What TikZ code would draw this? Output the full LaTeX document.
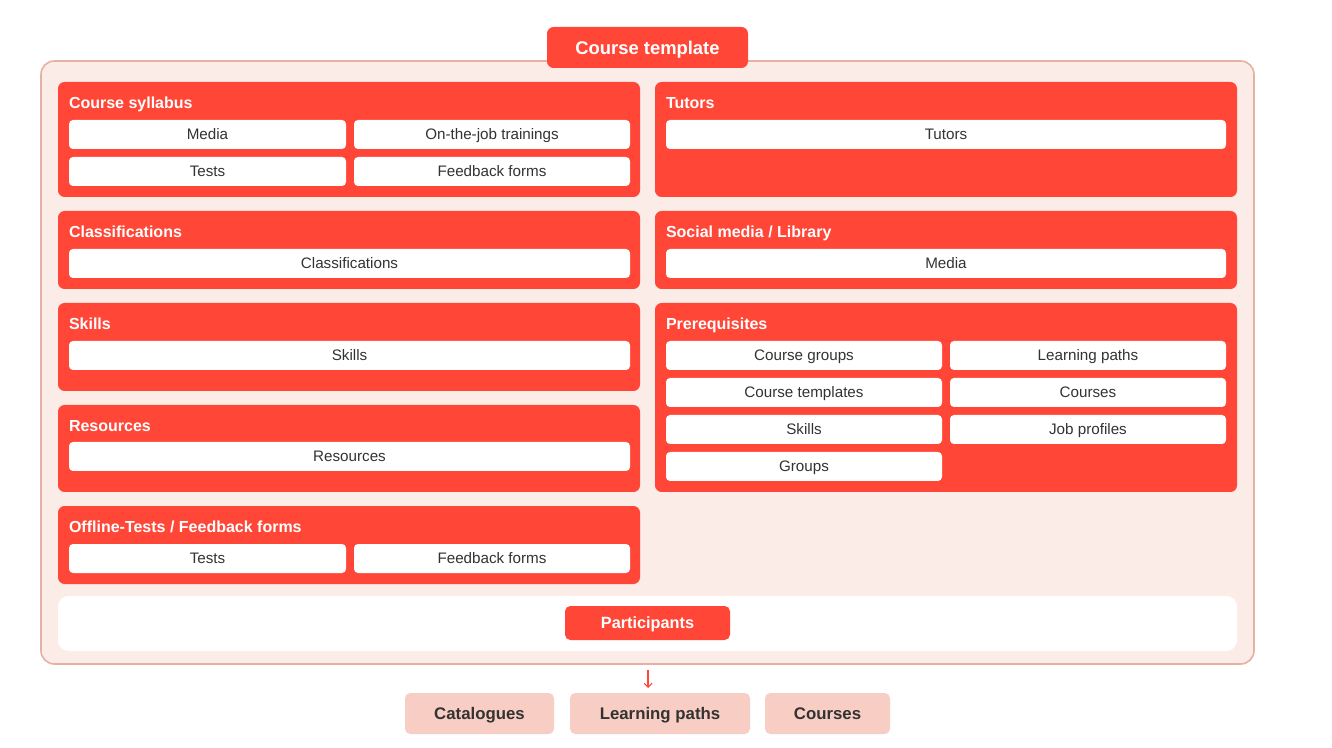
\documentclass[tikz,border=0pt]{standalone}
\usepackage{fontspec}
\setmainfont{Liberation Sans}
\usetikzlibrary{arrows.meta}
\definecolor{cred}{RGB}{255,70,55}
\definecolor{cbg}{RGB}{252,236,232}
\definecolor{cborder}{RGB}{230,176,162}
\definecolor{cpink}{RGB}{247,205,196}
\definecolor{ctext}{RGB}{51,51,51}
\tikzset{
  every node/.style={inner sep=0pt, outer sep=0pt},
  outerbox/.style={fill=cbg, draw=cborder, line width=1.2pt, rounded corners=10pt},
  panel/.style={fill=cred, rounded corners=5pt},
  subbox/.style={fill=white, rounded corners=3pt, text=ctext, text height=8.2pt, text depth=0pt, font=\fontsize{11.4}{13}\selectfont},
  ptitle/.style={anchor=west, text=white, text height=8.6pt, text depth=0pt, font=\bfseries\fontsize{12}{14}\selectfont},
  tab/.style={fill=cred, rounded corners=5pt, text=white, text height=9.9pt, text depth=0pt, font=\bfseries\fontsize{13.8}{16}\selectfont},
  partarea/.style={fill=white, rounded corners=8pt},
  partbtn/.style={fill=cred, rounded corners=4pt, text=white, text height=8.7pt, text depth=0pt, font=\bfseries\fontsize{12.2}{14}\selectfont},
  target/.style={fill=cpink, rounded corners=4pt, text=ctext, text height=9pt, text depth=0pt, font=\bfseries\fontsize{12.6}{15}\selectfont},
  link/.style={draw=cred, line width=0.8pt, -{Straight Barb[length=3pt,width=6pt]}}
}
\newcommand\bx[7]{\node[#6, minimum width={(#4-#2)*0.75pt}, minimum height={(#5-#3)*0.75pt}] (#1) at ({(#2+#4)/2},{(#3+#5)/2}) {#7};}
\begin{document}
\begin{tikzpicture}[x=0.75pt,y=-0.75pt]
\useasboundingbox (0,0) rectangle (1332,748);
% outer container
\bx{outer}{41}{61}{1254}{664}{outerbox}{}
\bx{tmpl}{547}{27}{748}{68}{tab}{Course template}
% Course syllabus
\bx{syl}{58}{82}{640}{197}{panel}{}
\node[ptitle] (sylt) at (69,103) {Course syllabus};
\bx{sylA}{69}{120}{346}{149}{subbox}{Media}
\bx{sylB}{354}{120}{630}{149}{subbox}{On-the-job trainings}
\bx{sylC}{69}{157}{346}{186}{subbox}{Tests}
\bx{sylD}{354}{157}{630}{186}{subbox}{Feedback forms}
% Tutors
\bx{tut}{655}{82}{1237}{197}{panel}{}
\node[ptitle] (tutt) at (666,103) {Tutors};
\bx{tutA}{666}{120}{1226}{149}{subbox}{Tutors}
% Classifications
\bx{cls}{58}{211}{640}{289}{panel}{}
\node[ptitle] (clst) at (69,232) {Classifications};
\bx{clsA}{69}{249}{630}{278}{subbox}{Classifications}
% Social media
\bx{soc}{655}{211}{1237}{289}{panel}{}
\node[ptitle] (soct) at (666,232) {Social media / Library};
\bx{socA}{666}{249}{1226}{278}{subbox}{Media}
% Skills
\bx{skl}{58}{303}{640}{391}{panel}{}
\node[ptitle] (sklt) at (69,324) {Skills};
\bx{sklA}{69}{341}{630}{370}{subbox}{Skills}
% Resources
\bx{res}{58}{405}{640}{492}{panel}{}
\node[ptitle] (rest) at (69,426) {Resources};
\bx{resA}{69}{442}{630}{471}{subbox}{Resources}
% Offline
\bx{off}{58}{506}{640}{584}{panel}{}
\node[ptitle] (offt) at (69,527) {Offline-Tests / Feedback forms};
\bx{offA}{69}{544}{346}{573}{subbox}{Tests}
\bx{offB}{354}{544}{630}{573}{subbox}{Feedback forms}
% Prerequisites
\bx{pre}{655}{303}{1237}{492}{panel}{}
\node[ptitle] (pret) at (666,324) {Prerequisites};
\bx{preA}{666}{341}{942}{370}{subbox}{Course groups}
\bx{preB}{950}{341}{1226}{370}{subbox}{Learning paths}
\bx{preC}{666}{378}{942}{407}{subbox}{Course templates}
\bx{preD}{950}{378}{1226}{407}{subbox}{Courses}
\bx{preE}{666}{415}{942}{444}{subbox}{Skills}
\bx{preF}{950}{415}{1226}{444}{subbox}{Job profiles}
\bx{preG}{666}{452}{942}{481}{subbox}{Groups}
% Participants
\bx{parea}{58}{596}{1237}{651}{partarea}{}
\bx{part}{565}{606}{730}{640}{partbtn}{Participants}
% bottom targets
\bx{cat}{405}{693}{554}{734}{target}{Catalogues}
\bx{lp}{570}{693}{750}{734}{target}{Learning paths}
\bx{crs}{765}{693}{890}{734}{target}{Courses}
% arrow
\coordinate (astart) at (648,670);
\coordinate (aend) at (648,688);
\draw[link] (astart) -- (aend);
\end{tikzpicture}
\end{document}
